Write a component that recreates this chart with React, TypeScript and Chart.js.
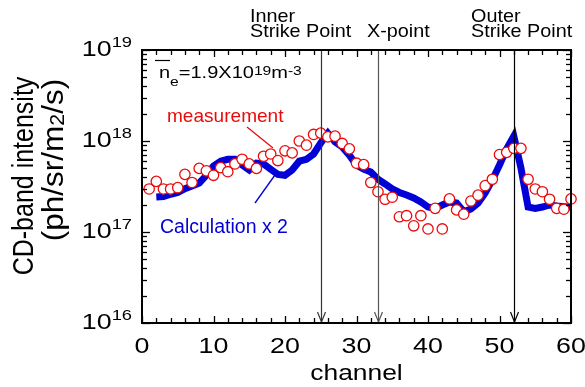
import React, { useEffect, useRef } from "react";
import { Chart, registerables } from "chart.js";
Chart.register(...registerables);

const measChannels = [1, 2, 3, 4, 5, 6, 7, 8, 9, 10, 11, 12, 13, 14, 15, 16, 17, 18, 19, 20, 21, 22, 23, 24, 25, 26, 27, 28, 29, 30, 31, 32, 33, 34, 35, 36, 37, 38, 39, 40, 41, 42, 43, 44, 45, 46, 47, 48, 49, 50, 51, 52, 53, 54, 55, 56, 57, 58, 59, 60];
const measValues = [
  2.97e17, 3.6e17, 2.97e17, 2.97e17, 3.07e17, 4.3e17, 3.5e17, 5.0e17, 4.7e17, 4.2e17,
  5.1e17, 4.6e17, 5.6e17, 6.3e17, 5.6e17, 5.0e17, 6.8e17, 7.2e17, 6.1e17, 7.8e17,
  7.4e17, 1.0e18, 9.0e17, 1.18e18, 1.22e18, 1.11e18, 1.13e18, 9.4e17, 8.2e17, 5.7e17,
  5.5e17, 3.5e17, 2.77e17, 2.29e17, 2.41e17, 1.47e17, 1.51e17, 1.17e17, 1.51e17, 1.08e17,
  1.82e17, 1.08e17, 2.31e17, 1.75e17, 1.57e17, 2.19e17, 2.54e17, 3.23e17, 3.8e17, 7.1e17,
  7.5e17, 8.3e17, 8.3e17, 3.8e17, 2.97e17, 2.77e17, 2.29e17, 1.82e17, 1.78e17, 2.31e17,
];
const calcChannels = [2, 3, 4, 5, 6, 7, 8, 9, 10, 11, 12, 13, 14, 15, 16, 17, 18, 19, 20, 21, 22, 23, 24, 25, 26, 27, 28, 29, 30, 31, 32, 33, 34, 35, 36, 37, 38, 39, 40, 41, 42, 43, 44, 45, 46, 47, 48, 49, 50, 51, 52, 53, 54, 55, 56, 57, 58, 59, 60];
const calcValues = [
  2.43e17, 2.45e17, 2.6e17, 2.72e17, 3.0e17, 3.2e17, 3.45e17, 4.2e17, 5.3e17,
  6.0e17, 6.3e17, 6.3e17, 5.45e17, 4.8e17, 5.7e17, 5.6e17, 4.9e17, 4.3e17, 4.2e17,
  4.8e17, 6.0e17, 6.3e17, 7.2e17, 9.5e17, 1.22e18, 9.75e17, 8.6e17, 7.0e17, 5.45e17,
  4.9e17, 4.57e17, 3.8e17, 3.37e17, 2.97e17, 2.72e17, 2.55e17, 2.37e17, 2.14e17, 1.88e17,
  1.82e17, 1.98e17, 2.14e17, 2.08e17, 1.67e17, 1.79e17, 2.08e17, 2.69e17, 3.73e17, 5.45e17,
  8.2e17, 1.13e18, 5.05e17, 1.88e17, 1.82e17, 1.88e17, 1.98e17, 1.93e17, 1.9e17, 1.87e17,
];
const yDecades = [16, 17, 18, 19];
const xTickLabels = [0, 10, 20, 30, 40, 50, 60];
const markerChannels = [25, 33, 52];
const markerColors = ["#333", "#555", "#000"];

const FONT = '"Liberation Sans", Arial, Helvetica, sans-serif';
const RED = "rgb(235,10,10)";
const BLUE = "rgb(0,0,215)";

type Part = { t: string; s: number; dy?: number };

function drawRich(
  ctx: CanvasRenderingContext2D,
  x: number,
  y: number,
  parts: Part[],
  opts: { align?: "left" | "center" | "right"; kx?: number; ky?: number; color?: string; rotate?: boolean }
) {
  const kx = opts.kx ?? 1;
  const ky = opts.ky ?? 1;
  ctx.save();
  ctx.fillStyle = opts.color ?? "#000";
  ctx.textBaseline = "alphabetic";
  ctx.textAlign = "left";
  let W = 0;
  const widths = parts.map((p) => {
    ctx.font = `${p.s}px ${FONT}`;
    const w = ctx.measureText(p.t).width;
    W += w;
    return w;
  });
  ctx.translate(x, y);
  if (opts.rotate) ctx.rotate(-Math.PI / 2);
  ctx.scale(kx, ky);
  let cx = opts.align === "center" ? -W / 2 : opts.align === "right" ? -W : 0;
  parts.forEach((p, i) => {
    ctx.font = `${p.s}px ${FONT}`;
    ctx.fillText(p.t, cx, p.dy ?? 0);
    cx += widths[i];
  });
  ctx.restore();
}

function line(ctx: CanvasRenderingContext2D, x1: number, y1: number, x2: number, y2: number) {
  ctx.beginPath();
  ctx.moveTo(x1, y1);
  ctx.lineTo(x2, y2);
  ctx.stroke();
}

const decorPlugin = {
  id: "decor",
  afterDatasetsDraw(chart: any) {
    const ctx: CanvasRenderingContext2D = chart.ctx;
    const { left, right, top, bottom } = chart.chartArea;
    const xs = chart.scales.x;
    const ys = chart.scales.y;
    ctx.save();
    // marker lines with arrows
    markerChannels.forEach((ch, i) => {
      const px = Math.round(xs.getPixelForValue(ch)) + 0.5;
      ctx.strokeStyle = markerColors[i];
      ctx.lineWidth = 1.2;
      line(ctx, px, top, px, bottom - 1);
      ctx.beginPath();
      ctx.moveTo(px - 4, bottom - 11);
      ctx.lineTo(px, bottom - 1);
      ctx.lineTo(px + 4, bottom - 11);
      ctx.stroke();
    });
    // frame
    ctx.strokeStyle = "#000";
    ctx.lineWidth = 2;
    ctx.strokeRect(left, top, right - left, bottom - top);
    // y ticks
    ctx.lineWidth = 1.3;
    yDecades.forEach((d) => {
      for (let m = 1; m <= 9; m++) {
        if (d === 19 && m > 1) break;
        const py = Math.round(ys.getPixelForValue(m * Math.pow(10, d))) + 0.5;
        const len = m === 1 ? 8 : 5;
        line(ctx, left, py, left + len, py);
        line(ctx, right - len, py, right, py);
      }
    });
    // x ticks
    for (let v = 0; v <= 60; v += 2) {
      const px = Math.round(xs.getPixelForValue(v)) + 0.5;
      const len = v % 10 === 0 ? 7 : 5;
      line(ctx, px, bottom, px, bottom - len);
      line(ctx, px, top, px, top + len);
    }
    // y tick labels
    yDecades.forEach((d) => {
      const py = ys.getPixelForValue(Math.pow(10, d));
      drawRich(ctx, 132, py + 5.5, [
        { t: "10", s: 22 },
        { t: String(d), s: 15, dy: -8.5 },
      ], { align: "right", kx: 1.22 });
    });
    // x tick labels
    xTickLabels.forEach((v) => {
      drawRich(ctx, xs.getPixelForValue(v), 353, [{ t: String(v), s: 22 }], { align: "center", kx: 1.22 });
    });
    // x title
    drawRich(ctx, (left + right) / 2, 380, [{ t: "channel", s: 22 }], { align: "center", kx: 1.2 });
    // y title
    drawRich(ctx, 33, 176, [{ t: "CD-band intensity", s: 25 }], { align: "center", ky: 1.18, rotate: true });
    drawRich(ctx, 63, 160, [
      { t: "(ph/sr/m", s: 25 },
      { t: "2", s: 17, dy: 1 },
      { t: "/s)", s: 25 },
    ], { align: "center", kx: 1.26, ky: 1.18, rotate: true });
    // marker labels
    const mk = { kx: 1.07 };
    drawRich(ctx, 250, 21.5, [{ t: "Inner", s: 18.5 }], mk);
    drawRich(ctx, 250, 36.5, [{ t: "Strike Point", s: 18.5 }], mk);
    drawRich(ctx, 367, 36.5, [{ t: "X-point", s: 18.5 }], mk);
    drawRich(ctx, 471, 21.5, [{ t: "Outer", s: 18.5 }], mk);
    drawRich(ctx, 471, 36.5, [{ t: "Strike Point", s: 18.5 }], mk);
    // density annotation
    drawRich(ctx, 159, 78, [
      { t: "n", s: 16 },
      { t: "e", s: 12.5, dy: 8 },
      { t: "=1.9X10", s: 16 },
      { t: "19", s: 12.5, dy: -3.5 },
      { t: "m", s: 16 },
      { t: "-3", s: 12.5, dy: -3 },
    ], { kx: 1.25 });
    ctx.strokeStyle = "#000";
    ctx.lineWidth = 1.2;
    line(ctx, 155, 60.5, 170, 60.5);
    // legend texts
    drawRich(ctx, 167, 121.5, [{ t: "measurement", s: 18.5 }], { color: RED, kx: 1.03 });
    ctx.strokeStyle = RED;
    ctx.lineWidth = 1.3;
    line(ctx, 247, 127, 273, 148);
    drawRich(ctx, 160, 233, [{ t: "Calculation x 2", s: 19.5 }], { color: BLUE, kx: 1.0 });
    ctx.strokeStyle = BLUE;
    line(ctx, 255, 203, 275, 175);
    ctx.restore();
  },
};

export default function App() {
  const ref = useRef<HTMLCanvasElement>(null);
  useEffect(() => {
    if (!ref.current) return;
    const chart = new Chart(ref.current, {
      type: "scatter",
      data: {
        datasets: [
          {
            label: "measurement",
            data: measChannels.map((c, i) => ({ x: c, y: measValues[i] })),
            showLine: false,
            pointStyle: "circle",
            pointRadius: 5.2,
            pointBorderWidth: 1.3,
            pointBorderColor: RED,
            pointBackgroundColor: "#fff",
            clip: false,
            order: 0,
          },
          {
            label: "calculation",
            data: calcChannels.map((c, i) => ({ x: c, y: calcValues[i] })),
            showLine: true,
            borderColor: BLUE,
            borderWidth: 7,
            pointRadius: 0,
            tension: 0,
            clip: false,
            order: 1,
          },
        ],
      },
      options: {
        animation: false,
        responsive: false,
        maintainAspectRatio: false,
        devicePixelRatio: 1,
        layout: { padding: { left: 142, right: 14, top: 50, bottom: 64 } },
        plugins: { legend: { display: false }, tooltip: { enabled: false } },
        scales: {
          x: { type: "linear", min: 0, max: 60, display: false },
          y: { type: "logarithmic", min: 1e16, max: 1e19, display: false },
        },
      },
      plugins: [decorPlugin],
    });
    return () => chart.destroy();
  }, []);
  return (
    <div style={{ position: "fixed", left: 0, top: 0, width: 585, height: 387, background: "#fff" }}>
      <canvas ref={ref} width={585} height={387} style={{ width: 585, height: 387, display: "block" }} />
    </div>
  );
}
